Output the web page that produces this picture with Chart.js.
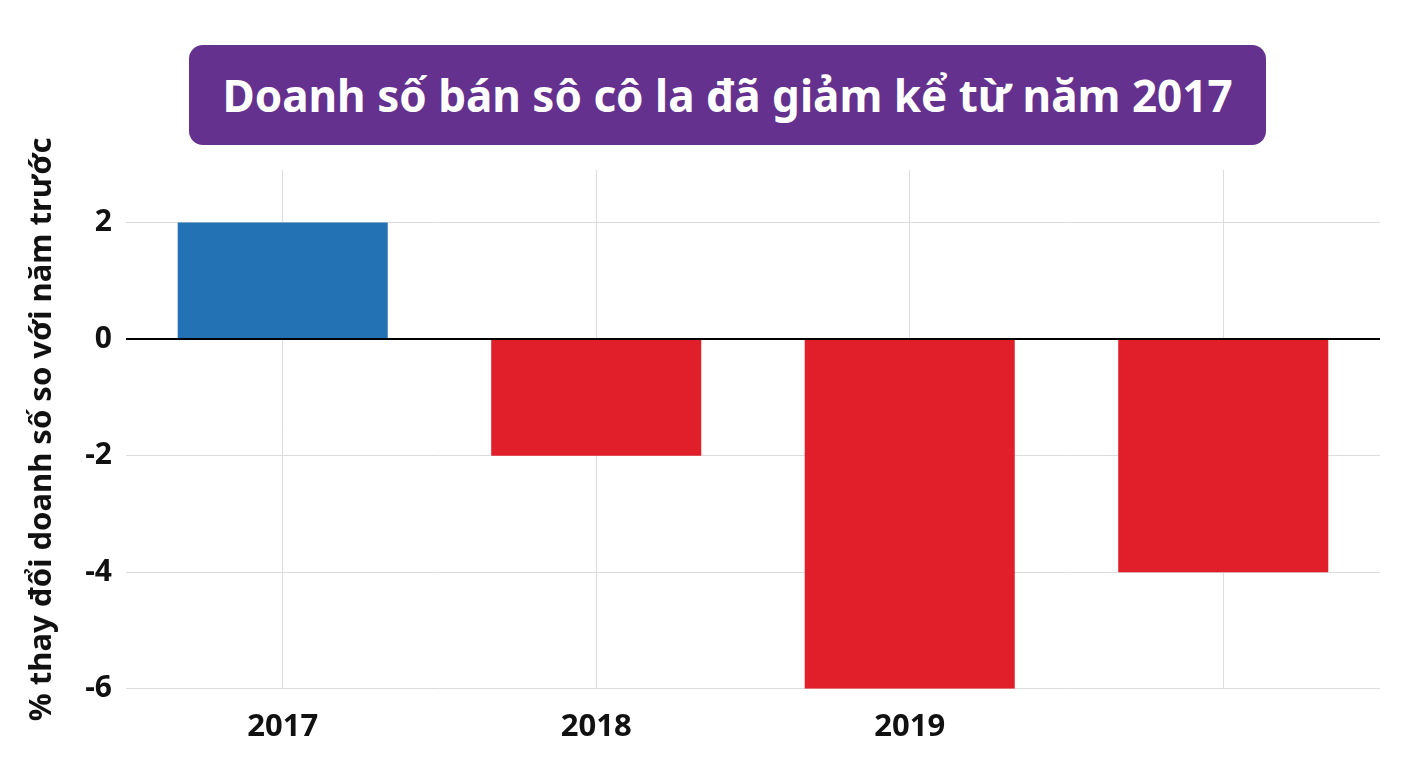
<!DOCTYPE html>
<html>
<head>
<meta charset="utf-8">
<script src="https://cdn.jsdelivr.net/npm/chart.js@4"></script>
<style>
  html, body { margin: 0; padding: 0; background: #fff; }
  #wrap { position: relative; width: 1408px; height: 768px; }
  #title {
    position: absolute; left: 189px; top: 45px; width: 1077px; height: 100px;
    background: #65318e; border-radius: 14px; color: #fff;
    font-family: "Noto Sans", sans-serif; font-weight: bold; font-size: 44px;
    display: flex; align-items: center; justify-content: center;
  }
  canvas { position: absolute; left: 0; top: 0; }
</style>
</head>
<body>
<div id="wrap">
  <canvas id="salesChart" width="1408" height="768"></canvas>
  <div id="title">Doanh số bán sô cô la đã giảm kể từ năm 2017</div>
</div>
<script>
// data
var years = ["2017", "2018", "2019", ""];
var changes = [2, -2, -6, -4];
var yTicks = [2, 0, -2, -4, -6];
var yAxisTitle = "% thay đổi doanh số so với năm trước";

var barColors = changes.map(function (v) { return v >= 0 ? "#2372b4" : "#e11f2a"; });
var font = "'Noto Sans', sans-serif";

var ctx = document.getElementById("salesChart");
var salesChart = new Chart(ctx, {
    type: 'bar',
    data: {
        labels: years,
        datasets: [{
            data: changes,
            backgroundColor: barColors,
            barPercentage: 0.67,
            categoryPercentage: 1
        }]
    },
    options: {
        responsive: false,
        animation: false,
        layout: { padding: { top: 170, bottom: 2, left: 24, right: 28 } },
        plugins: {
            legend: { display: false },
            tooltip: { enabled: false }
        },
        scales: {
            x: {
                grid: { offset: false, color: "#dcdcdc", drawTicks: false },
                border: { display: false },
                ticks: {
                    color: "#111",
                    padding: 20,
                    font: { family: font, size: 31, weight: "bold" }
                }
            },
            y: {
                min: -6,
                max: 2.9,
                afterBuildTicks: function (axis) {
                    axis.ticks = yTicks.map(function (v) { return { value: v }; });
                },
                grid: {
                    drawTicks: false,
                    color: function (c) { return c.tick && c.tick.value === 0 ? "#000" : "#dcdcdc"; },
                    lineWidth: function (c) { return c.tick && c.tick.value === 0 ? 2 : 1; }
                },
                border: { display: false },
                ticks: {
                    color: "#111",
                    padding: 14,
                    font: { family: font, size: 30, weight: "bold" }
                },
                title: {
                    display: true,
                    text: yAxisTitle,
                    color: "#111",
                    padding: { top: 0, bottom: 10 },
                    font: { family: font, size: 31, weight: "bold" }
                }
            }
        }
    }
});
</script>
</body>
</html>
